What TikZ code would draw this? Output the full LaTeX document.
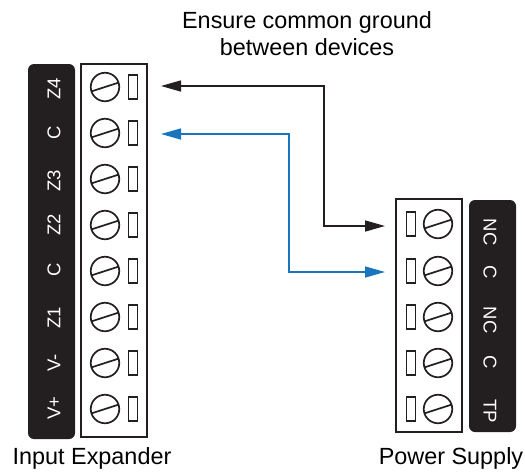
\documentclass[tikz,border=0pt]{standalone}
\usepackage{fontspec}
\setmainfont{Liberation Sans}
\usetikzlibrary{arrows.meta}
\definecolor{ink}{HTML}{231F20}
\definecolor{wireblue}{HTML}{1B75BC}
\tikzset{
  x=1pt,y=-1pt,
  panel/.style={fill=ink,draw=none,rounded corners=6pt},
  housing/.style={draw=ink,line width=1.7pt,fill=white},
  screw/.style={circle,draw=ink,line width=1.7pt,minimum size=28.5pt,inner sep=0pt,outer sep=0pt},
  slot/.style={draw=ink,line width=1.7pt,minimum width=9pt,minimum height=24pt,inner sep=0pt,outer sep=0pt},
  pin/.style={text=white,font=\fontsize{18.5}{18.5}\selectfont,inner sep=0pt},
  caption/.style={text=black,font=\fontsize{23.4}{27}\selectfont,inner sep=0pt,align=center},
  wire/.style={line width=1.5pt,{Triangle[length=20pt,width=11pt]}-{Triangle[length=20pt,width=11pt]}}
}
\newcommand{\screwslot}[1]{\draw[draw=ink,line width=1.7pt] ([shift={(-13.3,4.3)}]#1.center) -- ([shift={(13.3,-4.3)}]#1.center);}
\begin{document}
\begin{tikzpicture}
\useasboundingbox (0,0) rectangle (525,475);
% left device
\fill[panel] (28,64) rectangle (75,439);
\draw[housing] (81,64) rectangle (147,437);
\foreach \i/\yy/\lab/\ly in {1/87/Z4/89,2/133/C/133,3/179/Z3/181,4/225/Z2/225,5/271/C/270,6/317/Z1/318,7/363/V-/363,8/409/V+/408}{
  \node[screw] (ls\i) at (105,\yy) {};
  \screwslot{ls\i}
  \node[slot] (lp\i) at (133,\yy) {};
  \node[pin,rotate=90] (ll\i) at (54,\ly) {\lab};
}
% right device
\fill[panel] (469,200) rectangle (516,432);
\draw[housing] (396,199) rectangle (462,432);
\foreach \i/\yy/\lab/\ly in {1/224/NC/232,2/271/C/272,3/317/NC/320,4/363/C/362,5/409/TP/411}{
  \node[screw] (rs\i) at (438,\yy) {};
  \screwslot{rs\i}
  \node[slot] (rp\i) at (411,\yy) {};
  \node[pin,rotate=-90] (rl\i) at (490,\ly) {\lab};
}
% wires
\coordinate (bl) at (161,86);
\coordinate (br) at (385,226);
\coordinate (cl) at (161,134);
\coordinate (cr) at (385,272);
\draw[wire,draw=ink] (bl) -- (324,86) -- (324,226) -- (br);
\draw[wire,draw=wireblue] (cl) -- (289,134) -- (289,272) -- (cr);
% captions
\node[caption] (t1) at (307,33.5) {Ensure common ground\\between devices};
\node[caption] (t2) at (92,458) {Input Expander};
\node[caption] (t3) at (451,458) {Power Supply};
\end{tikzpicture}
\end{document}
